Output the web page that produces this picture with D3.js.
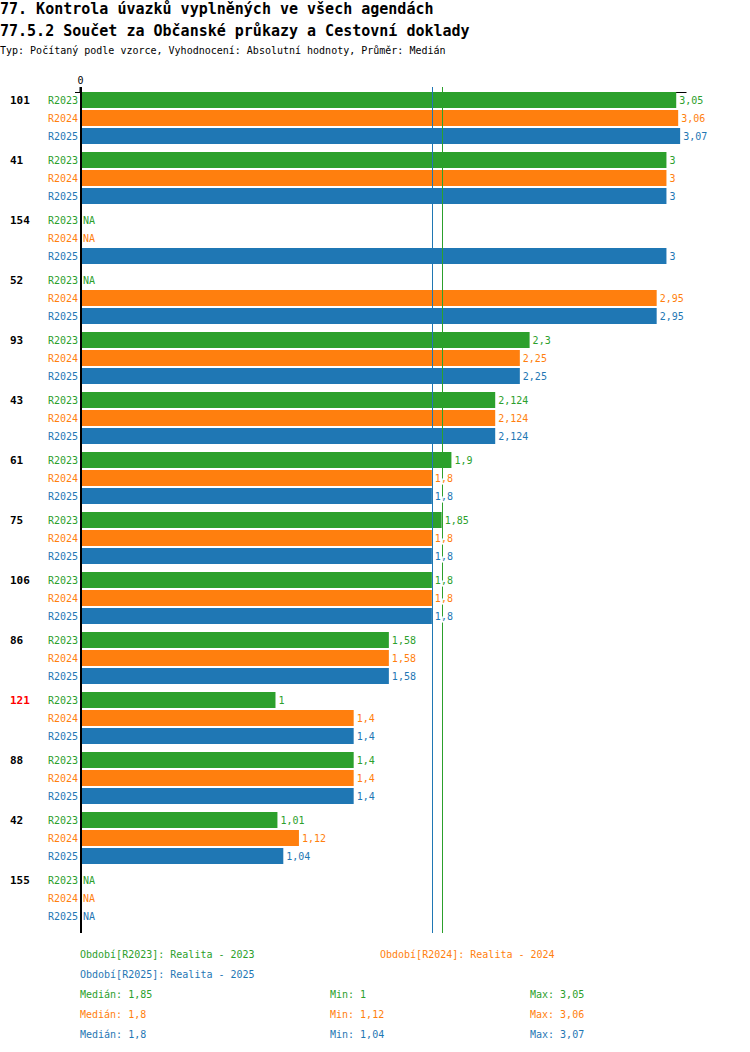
<!DOCTYPE html>
<html>
<head>
<meta charset="utf-8">
<script src="https://cdn.jsdelivr.net/npm/d3@7"></script>
<style>
  body { margin: 0; background: #fff; }
  text { font-family: "DejaVu Sans Mono", monospace; }
</style>
</head>
<body>
<svg id="chart" width="750" height="1052"></svg>
<script>
// data
const groups = ["101", "41", "154", "52", "93", "43", "61", "75", "106", "86", "121", "88", "42", "155"];
const highlighted = ["121"];
const seriesNames = ["R2023", "R2024", "R2025"];
const seriesColors = ["#2ca02c", "#ff7f0e", "#1f77b4"];
const r2023 = [3.05, 3, null, null, 2.3, 2.124, 1.9, 1.85, 1.8, 1.58, 1, 1.4, 1.01, null];
const r2024 = [3.06, 3, null, 2.95, 2.25, 2.124, 1.8, 1.8, 1.8, 1.58, 1.4, 1.4, 1.12, null];
const r2025 = [3.07, 3, 3, 2.95, 2.25, 2.124, 1.8, 1.8, 1.8, 1.58, 1.4, 1.4, 1.04, null];
const medians = [1.85, 1.8, 1.8];
const mins = [1, 1.12, 1.04];
const maxs = [3.05, 3.06, 3.07];
const periodLabels = ["Období[R2023]: Realita - 2023", "Období[R2024]: Realita - 2024", "Období[R2025]: Realita - 2025"];

const titles = [
    "77. Kontrola úvazků vyplněných ve všech agendách",
    "77.5.2 Součet za Občanské průkazy a Cestovní doklady"
];
const subtitle = "Typ: Počítaný podle vzorce, Vyhodnocení: Absolutní hodnoty, Průměr: Medián";

const seriesValues = [r2023, r2024, r2025];
const fmt = v => String(v).replace(".", ",");

const svg = d3.select("#chart");

// titles
svg.selectAll("text.title")
    .data(titles)
    .enter()
    .append("text")
    .attr("class", "title")
    .attr("x", 0)
    .attr("y", (d, i) => 14 + i * 22)
    .attr("font-size", 15)
    .attr("font-weight", "bold")
    .attr("fill", "#000")
    .text(d => d);

svg.append("text")
    .attr("x", 0)
    .attr("y", 54)
    .attr("font-size", 10)
    .attr("fill", "#000")
    .text(subtitle);

// scales
const plotTop = 92, groupStep = 60, rowStep = 18, barH = 16;
const x = d3.scaleLinear().domain([0, 3.1]).range([80, 686]);
const yGroup = d3.scaleBand().domain(groups).range([plotTop, plotTop + groups.length * groupStep]);

// top axis with 0 label
const axis = svg.append("g")
    .attr("transform", `translate(0,${plotTop})`)
    .call(d3.axisTop(x).tickValues([0]).tickSize(5).tickSizeOuter(0).tickFormat(d3.format("d")));
axis.select(".domain").attr("stroke", "#000");
axis.selectAll("text").attr("font-family", "DejaVu Sans Mono").attr("font-size", 10).attr("fill", "#000");
axis.selectAll(".tick line").attr("stroke", "#000").attr("stroke-width", 2);
svg.append("line")
    .attr("x1", 75).attr("x2", 80)
    .attr("y1", plotTop + 0.5).attr("y2", plotTop + 0.5)
    .attr("stroke", "#000");

// rows
const rows = [];
groups.forEach((g, gi) => {
    seriesValues.forEach((vals, si) => {
        rows.push({ group: g, series: si, value: vals[gi] });
    });
});
const rowY = d => yGroup(d.group) + d.series * rowStep;

svg.selectAll("rect.bar")
    .data(rows.filter(d => d.value != null))
    .enter()
    .append("rect")
    .attr("class", "bar")
    .attr("x", x(0))
    .attr("y", rowY)
    .attr("width", d => x(d.value) - x(0))
    .attr("height", barH)
    .attr("fill", d => seriesColors[d.series]);

// median lines (over the bars)
svg.selectAll("line.median")
    .data(medians)
    .enter()
    .append("line")
    .attr("class", "median")
    .attr("x1", d => Math.round(x(d)) + 0.5)
    .attr("x2", d => Math.round(x(d)) + 0.5)
    .attr("y1", 87)
    .attr("y2", 933)
    .attr("stroke", (d, i) => seriesColors[i])
    .attr("stroke-width", 1);

svg.selectAll("text.val")
    .data(rows)
    .enter()
    .append("text")
    .attr("class", "val")
    .attr("x", d => (d.value == null ? x(0) : x(d.value)) + 3)
    .attr("y", d => rowY(d) + barH / 2)
    .attr("dy", "0.35em")
    .attr("font-size", 10)
    .attr("fill", d => seriesColors[d.series])
    .attr("stroke", "#fff")
    .attr("stroke-width", 3)
    .attr("paint-order", "stroke")
    .text(d => d.value == null ? "NA" : fmt(d.value));

svg.selectAll("text.series")
    .data(rows)
    .enter()
    .append("text")
    .attr("class", "series")
    .attr("x", 78)
    .attr("y", d => rowY(d) + barH / 2)
    .attr("dy", "0.35em")
    .attr("text-anchor", "end")
    .attr("font-size", 10)
    .attr("fill", d => seriesColors[d.series])
    .text(d => seriesNames[d.series]);

svg.selectAll("text.group")
    .data(groups)
    .enter()
    .append("text")
    .attr("class", "group")
    .attr("x", 10)
    .attr("y", d => yGroup(d) + barH / 2)
    .attr("dy", "0.35em")
    .attr("font-size", 11)
    .attr("font-weight", "bold")
    .attr("fill", d => highlighted.includes(d) ? "#ff0000" : "#000")
    .text(d => d);

// left axis line
svg.append("line")
    .attr("x1", 81).attr("x2", 81)
    .attr("y1", 87).attr("y2", 933)
    .attr("stroke", "#000")
    .attr("stroke-width", 2);

// legend
const periodPos = [[80, 954], [380, 954], [80, 974]];
svg.selectAll("text.period")
    .data(periodLabels)
    .enter()
    .append("text")
    .attr("class", "period")
    .attr("x", (d, i) => periodPos[i][0])
    .attr("y", (d, i) => periodPos[i][1])
    .attr("dy", "0.35em")
    .attr("font-size", 10)
    .attr("fill", (d, i) => seriesColors[i])
    .text(d => d);

const stats = [];
seriesNames.forEach((s, i) => {
    stats.push({ x: 80, i: i, text: "Medián: " + fmt(medians[i]) });
    stats.push({ x: 330, i: i, text: "Min: " + fmt(mins[i]) });
    stats.push({ x: 530, i: i, text: "Max: " + fmt(maxs[i]) });
});
svg.selectAll("text.stat")
    .data(stats)
    .enter()
    .append("text")
    .attr("class", "stat")
    .attr("x", d => d.x)
    .attr("y", d => 994 + d.i * 20)
    .attr("dy", "0.35em")
    .attr("font-size", 10)
    .attr("fill", d => seriesColors[d.i])
    .text(d => d.text);
</script>
</body>
</html>
